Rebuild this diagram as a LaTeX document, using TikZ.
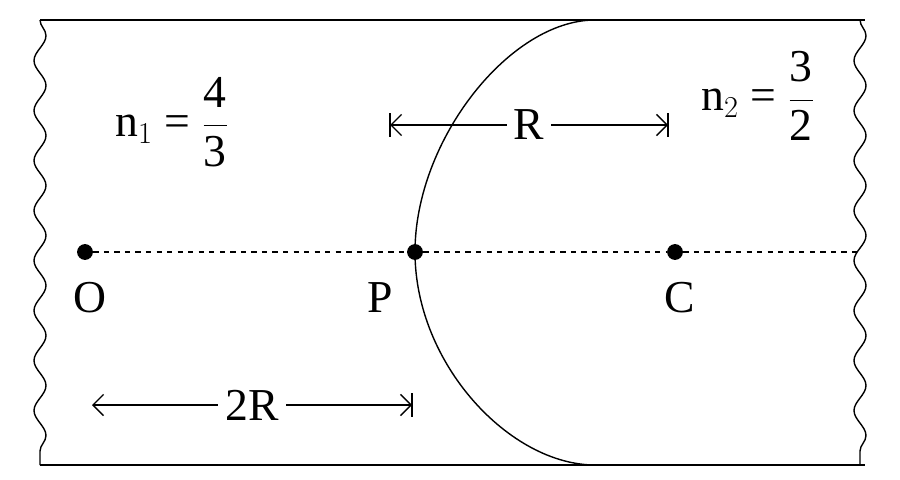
\documentclass[tikz,border=0pt]{standalone}
\usepackage{fontspec}
\setmainfont{Liberation Serif}
\usetikzlibrary{decorations.pathmorphing,arrows.meta}
\newcommand{\bigfr}[2]{$\displaystyle\frac{\mbox{#1}}{\mbox{#2}}$}
\begin{document}
\begin{tikzpicture}[x=0.02cm,y=-0.02cm,
    lbl/.style={font=\fontsize{26}{28}\selectfont,inner sep=1pt},
    dim/.style={thick,{Straight Barb[length=6pt]}-{Straight Barb[length=6pt]}},
    wavy/.style={thick,decorate,decoration={snake,amplitude=1.2mm,segment length=1cm}}]
  \useasboundingbox (0,0) rectangle (900,480);

  % slab borders
  \draw[thick] (40,20) -- (865,20);
  \draw[thick] (40,465) -- (865,465);
  \draw[wavy] (40,20) -- (40,465);
  \draw[wavy] (860,20) -- (860,465);

  % axis and points
  \coordinate (E) at (862,252);
  \begin{scope}[every node/.style={circle,fill,inner sep=0pt,minimum size=9pt}]
    \node (o) at (85,252) {};
    \node (p) at (415,252) {};
    \node (c) at (675,252) {};
  \end{scope}
  \draw[thick,dashed] (o) -- (p) -- (c) -- (E);

  % refracting surface
  \draw[thick] (595,20) .. controls (510,20) and (415,140) .. (p.center)
               .. controls (415,364) and (510,465) .. (595,465);

  \node[lbl] at (90,298) {O};
  \node[lbl] at (380,298) {P};
  \node[lbl] at (680,298) {C};

  \node[lbl] at (172,122) {n$_1$ = \bigfr{4}{3}};
  \node[lbl] at (758,96) {n$_2$ = \bigfr{3}{2}};

  % dimensions
  \coordinate (r1) at (390,125);
  \coordinate (r2) at (668,125);
  \draw[dim] (r1) -- node[lbl,fill=white,inner xsep=4pt] {R} (r2);
  \draw[thick] (r1) ++(0,-12) -- ++(0,24);
  \draw[thick] (r2) ++(0,-12) -- ++(0,24);
  \coordinate (d1) at (92,405);
  \coordinate (d2) at (412,405);
  \draw[dim] (d1) -- node[lbl,fill=white,inner xsep=4pt] {2R} (d2);
  \draw[thick] (d2) ++(0,-12) -- ++(0,24);
\end{tikzpicture}
\end{document}
